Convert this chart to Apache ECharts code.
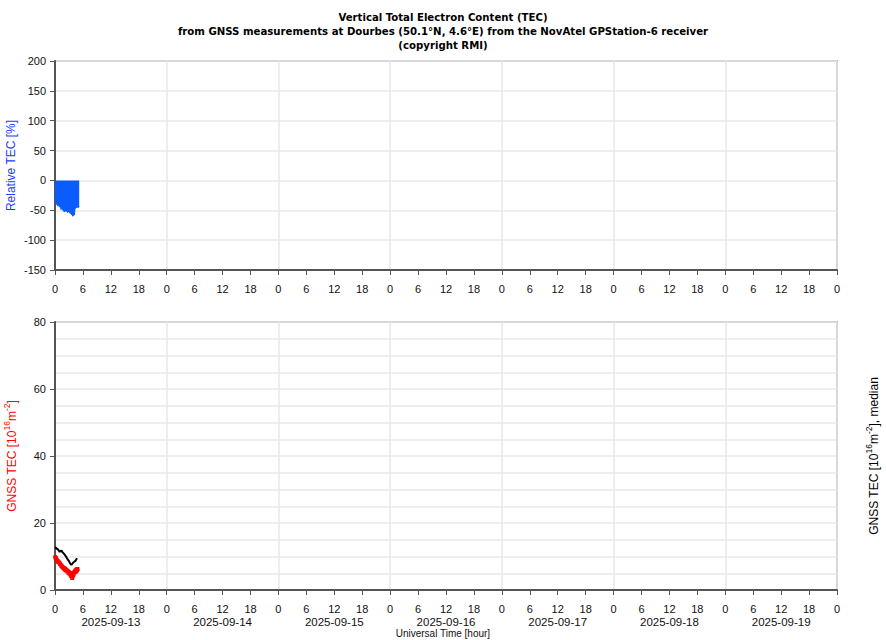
<!DOCTYPE html>
<html>
<head>
<meta charset="utf-8">
<script src="https://cdn.jsdelivr.net/npm/echarts@6/dist/echarts.min.js"></script>
<style>
html,body{margin:0;padding:0;background:#fff;}
#chart{width:886px;height:640px;}
</style>
</head>
<body>
<div id="chart"></div>
<script>
// ---- data ----
var days = ['2025-09-13','2025-09-14','2025-09-15','2025-09-16','2025-09-17','2025-09-18','2025-09-19'];
var hourTickLabels = ['0','6','12','18'];
var relTicks = [-150,-100,-50,0,50,100,150,200];
var tecTicks = [0,20,40,60,80];

// Relative TEC [%] (hours since 2025-09-13 00 UT)
var relHours = [0.0,0.1,0.2,0.3,0.4,0.5,0.6,0.7,0.8,0.9,1.0,1.1,1.2,1.3,1.4,1.5,1.6,1.7,1.8,1.9,2.0,2.1,2.2,2.3,2.4,2.5,2.6,2.7,2.8,2.9,3.0,3.1,3.2,3.3,3.4,3.5,3.6,3.7,3.8,3.9,4.0,4.1,4.2,4.3,4.4,4.5,4.6,4.7,4.8,4.9,5.0,5.1,5.2];
var relValues = [-27,-33,-38,-36,-41,-40,-43,-39,-42,-44,-41,-45,-43,-49,-44,-47,-45,-50,-46,-52,-48,-53,-50,-51,-47,-52,-49,-54,-50,-53,-48,-51,-55,-50,-56,-52,-58,-55,-60,-57,-59,-56,-58,-45,-47,-44,-46,-43,-45,-44,-46,-43,-44];

// GNSS TEC (red)
var tecHours = [0.0,0.1,0.2,0.3,0.4,0.5,0.6,0.7,0.8,0.9,1.0,1.1,1.2,1.3,1.4,1.5,1.6,1.7,1.8,1.9,2.0,2.1,2.2,2.3,2.4,2.5,2.6,2.7,2.8,2.9,3.0,3.1,3.2,3.3,3.4,3.5,3.6,3.7,3.8,3.9,4.0,4.1,4.2,4.3,4.4,4.5,4.6,4.7,4.8,4.9];
var tecValues = [10.4,9.2,10.0,8.6,9.4,8.2,9.1,7.8,8.8,7.6,8.5,7.2,8.1,6.8,7.8,6.5,7.4,6.2,7.2,6.0,7.0,5.6,6.8,5.4,6.5,5.1,6.3,4.9,6.1,4.6,5.8,4.4,5.6,4.1,5.2,3.6,4.6,3.0,4.8,3.8,5.6,4.4,6.0,4.8,6.4,5.0,6.6,5.3,6.8,5.6];

// GNSS TEC median (black)
var medHours = [0.0,0.2,0.4,0.6,0.8,1.0,1.2,1.4,1.6,1.8,2.0,2.2,2.4,2.6,2.8,3.0,3.2,3.4,3.6,3.8,4.0,4.2,4.4,4.6,4.7];
var medValues = [12.7,12.6,12.3,12.2,11.8,11.4,11.6,11.8,11.3,11.0,10.7,10.3,9.9,9.4,9.0,8.6,8.1,7.6,7.6,8.0,8.3,8.5,8.7,9.2,9.5];

function zip(a,b){var r=[];for(var i=0;i<a.length;i++){r.push([a[i],b[i]]);}return r;}

var FONT = '"Liberation Sans", Arial, Helvetica, sans-serif';
var axisDark = '#555555';
var gridCol = '#e8e8e8';

function hourFmt(v){ return hourTickLabels[(Math.round(v)%24)/6]; }

function mainX(gridIndex){
  return {
    type:'value', gridIndex:gridIndex, min:0, max:168, interval:6, position:'bottom',
    axisLine:{show:true, onZero:false, lineStyle:{color:axisDark, width:2}},
    axisTick:{show:true, inside:false, length:5, lineStyle:{color:axisDark, width:1}},
    axisLabel:{show:true, margin:13, formatter:hourFmt, color:'#111', fontSize:11, fontFamily:FONT, showMinLabel:true, showMaxLabel:true},
    splitLine:{show:false}
  };
}
function dayX(gridIndex){
  return {
    type:'value', gridIndex:gridIndex, min:0, max:168, interval:24, position:'bottom',
    axisLine:{show:false}, axisTick:{show:false}, axisLabel:{show:false},
    splitLine:{show:true, lineStyle:{color:gridCol, width:1.5}}
  };
}

var chart = echarts.init(document.getElementById('chart'), null, {renderer:'svg'});

var option = {
  animation:false,
  backgroundColor:'#ffffff',
  title:{
    text:'Vertical Total Electron Content (TEC)\nfrom GNSS measurements at Dourbes (50.1\u00b0N, 4.6\u00b0E) from the NovAtel GPStation-6 receiver\n(copyright RMI)',
    left:'center', top:5,
    textStyle:{fontSize:11.3, fontWeight:'bold', lineHeight:14, color:'#000', fontFamily:'"DejaVu Sans Condensed", "Liberation Sans Narrow", "Liberation Sans", sans-serif'}
  },
  grid:[
    {left:55, right:49, top:61, height:209, show:true, borderColor:'#a8a8a8', borderWidth:2, containLabel:false, outerBoundsMode:'none'},
    {left:55, right:49, top:322, height:268, show:true, borderColor:'#a8a8a8', borderWidth:2, containLabel:false, outerBoundsMode:'none'}
  ],
  xAxis:[
    mainX(0),
    dayX(0),
    mainX(1),
    dayX(1),
    {
      type:'category', gridIndex:1, data:days, position:'bottom', boundaryGap:true,
      axisLine:{show:false}, axisTick:{show:false}, splitLine:{show:false},
      axisLabel:{show:true, margin:26, interval:0, color:'#111', fontSize:11.5, fontFamily:FONT}
    }
  ],
  yAxis:[
    {
      type:'value', gridIndex:0, min:-150, max:200, interval:50,
      name:'Relative TEC [%]', nameLocation:'middle', nameGap:38, nameMoveOverlap:false,
      nameTextStyle:{color:'#1a3cff', fontSize:12, fontFamily:FONT},
      axisLine:{show:true, onZero:false, lineStyle:{color:axisDark, width:2}},
      axisTick:{show:true, length:5, lineStyle:{color:axisDark}},
      axisLabel:{margin:9, color:'#111', fontSize:11, fontFamily:FONT,
        formatter:function(v){return relTicks.indexOf(v)>=0? String(v):'';}},
      splitLine:{show:true, lineStyle:{color:gridCol, width:1.5}}
    },
    {
      type:'value', gridIndex:1, min:0, max:80, interval:20,
      name:'{a|GNSS TEC [10}{s|16}{a|m}{s|-2}{a|]}', nameLocation:'middle', nameGap:37, nameMoveOverlap:false,
      nameTextStyle:{color:'#ff0000', fontSize:12, fontFamily:FONT,
        rich:{a:{color:'#ff0000', fontSize:12, fontFamily:FONT, lineHeight:16, verticalAlign:'bottom'},
              s:{color:'#ff0000', fontSize:8.5, fontFamily:FONT, lineHeight:16, verticalAlign:'top'}}},
      axisLine:{show:true, onZero:false, lineStyle:{color:axisDark, width:2}},
      axisTick:{show:true, length:5, lineStyle:{color:axisDark}},
      axisLabel:{margin:9, color:'#111', fontSize:11, fontFamily:FONT,
        formatter:function(v){return tecTicks.indexOf(v)>=0? String(v):'';}},
      minorTick:{show:false, splitNumber:4},
      minorSplitLine:{show:true, lineStyle:{color:gridCol, width:1.5}},
      splitLine:{show:true, lineStyle:{color:gridCol, width:1.5}}
    },
    {
      type:'value', gridIndex:1, min:0, max:80, interval:20, position:'right',
      name:'{a|GNSS TEC [10}{s|16}{a|m}{s|-2}{a|], median}', nameLocation:'middle', nameGap:27, nameMoveOverlap:false,
      nameTextStyle:{color:'#000', fontSize:12, fontFamily:FONT,
        rich:{a:{color:'#000', fontSize:12, fontFamily:FONT, lineHeight:16, verticalAlign:'bottom'},
              s:{color:'#000', fontSize:8.5, fontFamily:FONT, lineHeight:16, verticalAlign:'top'}}},
      axisLine:{show:false}, axisTick:{show:false}, axisLabel:{show:false}, splitLine:{show:false}
    }
  ],
  graphic:[
    {type:'text', left:'center', top:628, style:{text:'Universal Time [hour]', fill:'#111', fontSize:10, fontFamily:FONT}}
  ],
  series:[
    {
      type:'line', xAxisIndex:0, yAxisIndex:0, data:zip(relHours, relValues),
      showSymbol:false, symbol:'none', lineStyle:{color:'#0a5cff', width:1},
      areaStyle:{color:'#0a5cff', opacity:1}, z:3
    },
    {
      type:'line', xAxisIndex:2, yAxisIndex:1, data:zip(tecHours, tecValues),
      showSymbol:false, symbol:'none', lineStyle:{color:'#ff0000', width:4}, z:3
    },
    {
      type:'line', xAxisIndex:2, yAxisIndex:1, data:zip(medHours, medValues),
      showSymbol:false, symbol:'none', lineStyle:{color:'#000000', width:2}, z:4
    }
  ]
};
chart.setOption(option);
</script>
</body>
</html>
